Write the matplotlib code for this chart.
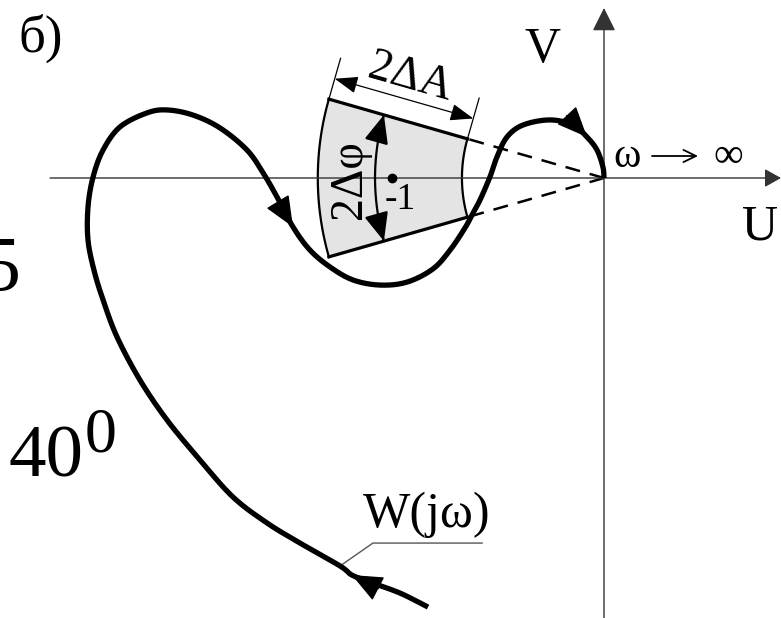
import numpy as np
import matplotlib.pyplot as plt
from matplotlib.patches import FancyArrowPatch
from matplotlib.path import Path

plt.rcParams['font.family'] = ['Liberation Serif', 'DejaVu Serif']

# hodograph W(jw) in the U-V plane, from the low-frequency end to w -> inf
curve_u = [-0.830, -0.962, -1.104, -1.189, -1.245, -1.434, -1.590, -1.750, -1.906, -2.061,
           -2.189, -2.297, -2.363, -2.406, -2.434, -2.434, -2.410, -2.363, -2.283, -2.156,
           -2.061, -1.939, -1.811, -1.684, -1.608, -1.542, -1.467, -1.387, -1.292, -1.184,
           -1.057, -0.929, -0.807, -0.726, -0.656, -0.623, -0.585, -0.538, -0.505, -0.458,
           -0.382, -0.255, -0.146, -0.080, -0.033, -0.005, 0.0]
curve_v = [-2.024, -1.958, -1.906, -1.873, -1.830, -1.722, -1.627, -1.505, -1.330, -1.142,
           -0.953, -0.750, -0.575, -0.434, -0.292, -0.137, 0.005, 0.132, 0.241, 0.307,
           0.321, 0.297, 0.236, 0.132, 0.024, -0.090, -0.231, -0.340, -0.420, -0.481,
           -0.505, -0.491, -0.429, -0.340, -0.236, -0.175, -0.104, 0.005, 0.099, 0.193,
           0.250, 0.274, 0.250, 0.193, 0.132, 0.052, 0.0]
arrow_idx = [3, 26, 43]   # where the direction arrows sit on the curve

# forbidden zone around the critical point (-1, j0)
crit_u = -1.0
amp_low, amp_high = 0.67, 1.35
dphi = 16.0   # degrees
phi_arc_r = 1.08

K = 212.0  # pixels per unit


def smooth(u, v, n=12):
    # catmull-rom through the traced points
    p = np.column_stack([u, v])
    p = np.vstack([p[0], p, p[-1]])
    t = np.linspace(0, 1, n, endpoint=False)[:, None]
    out = []
    for i in range(1, len(p) - 2):
        p0, p1, p2, p3 = p[i - 1], p[i], p[i + 1], p[i + 2]
        out.append(0.5 * (2 * p1 + (-p0 + p2) * t + (2 * p0 - 5 * p1 + 4 * p2 - p3) * t ** 2
                          + (-p0 + 3 * p1 - 3 * p2 + p3) * t ** 3))
    out.append(p[-2][None])
    return np.vstack(out), n


fig = plt.figure(figsize=(7.81, 6.18), dpi=100)
ax = fig.add_axes([0, 0, 1, 1])
ax.set_xlim(-604 / K, 177 / K)
ax.set_ylim(-440 / K, 178 / K)
ax.axis('off')

axis_col = '#333333'
ax.annotate('', xy=(177 / K, 0), xytext=(-2.613, 0),
            arrowprops=dict(arrowstyle='-|>,head_length=0.5,head_width=0.28', color=axis_col,
                            lw=1.0, mutation_scale=20, shrinkA=0, shrinkB=0))
ax.annotate('', xy=(0, 170 / K), xytext=(0, -2.1),
            arrowprops=dict(arrowstyle='-|>,head_length=0.72,head_width=0.36', color=axis_col,
                            lw=1.0, mutation_scale=20, shrinkA=0, shrinkB=0))

# shaded sector
a0 = np.radians(180 - dphi)
a1 = np.radians(180 + dphi)
th = np.linspace(a0, a1, 80)
su = np.concatenate([amp_high * np.cos(th), amp_low * np.cos(th[::-1])])
sv = np.concatenate([amp_high * np.sin(th), amp_low * np.sin(th[::-1])])
ax.fill(su, sv, color='#e4e4e4', lw=0, zorder=1)
ax.plot(amp_high * np.cos(th), amp_high * np.sin(th), color='k', lw=1.6, zorder=2)
ax.plot(amp_low * np.cos(th), amp_low * np.sin(th), color='k', lw=1.6, zorder=2)
for a in (a0, a1):
    ax.plot([amp_low * np.cos(a), amp_high * np.cos(a)],
            [amp_low * np.sin(a), amp_high * np.sin(a)], color='k', lw=2.3, zorder=2)
    ax.plot([0, amp_low * np.cos(a)], [0, amp_low * np.sin(a)], color='k', lw=1.8,
            dashes=(6, 4), zorder=2)

ax.plot(crit_u, 0, 'o', color='k', ms=6, zorder=3)
ax.text(crit_u + 0.038, -0.104, '-1', fontsize=27, ha='center', va='center', zorder=4)

# 2dA dimension along the upper edge
e = np.array([np.cos(a0), np.sin(a0)])
nrm = np.array([np.sin(a0), -np.cos(a0)])
p_out = amp_high * e
p_in = amp_low * e
for p in (p_out, p_in):
    q = p + 0.2 * nrm
    ax.plot([p[0], q[0]], [p[1], q[1]], color='k', lw=0.9)
d_out = p_out + 0.1 * nrm
d_in = p_in + 0.1 * nrm
ax.annotate('', xy=d_in, xytext=d_out,
            arrowprops=dict(arrowstyle='<|-|>,head_length=0.65,head_width=0.24', color='k',
                            lw=0.9, mutation_scale=22, shrinkA=0, shrinkB=0))
mid = (d_out + d_in) / 2 + 0.05 * nrm
ax.text(mid[0], mid[1], '2ΔA', fontsize=33, rotation=-dphi, rotation_mode='anchor',
        ha='center', va='baseline')

# 2dphi arc
tha = np.linspace(a0, a1, 60)
arc = Path(np.column_stack([phi_arc_r * np.cos(tha), phi_arc_r * np.sin(tha)]))
ax.add_patch(FancyArrowPatch(path=arc, arrowstyle='<|-|>,head_length=0.7,head_width=0.3',
                             mutation_scale=25, color='k', lw=1.6, zorder=3))
ax.text(-1.198, -0.009, '2Δφ', fontsize=33, rotation=90, ha='center', va='center', zorder=4)

# the hodograph
pts, n = smooth(curve_u, curve_v)
ax.plot(pts[:, 0], pts[:, 1], color='k', lw=3.8, solid_capstyle='butt', zorder=5)
for k in arrow_idx:
    tip = pts[k * n]
    d = pts[k * n] - pts[k * n - 1]
    d = d / np.hypot(*d)
    ax.annotate('', xy=tip, xytext=tip - 0.14 * d,
                arrowprops=dict(arrowstyle='-|>,head_length=0.7,head_width=0.3', color='k',
                                lw=1.0, mutation_scale=28, shrinkA=0, shrinkB=0), zorder=6)

# W(jw) callout
ax.plot([-1.245, -1.090, -0.575], [-1.830, -1.722, -1.722], color='#555555', lw=1.0, zorder=4)
ax.text(-1.137, -1.646, 'W(jω)', fontsize=36, ha='left', va='baseline')

# w -> inf
ax.text(0.042, 0.052, 'ω', fontsize=30, ha='left', va='baseline')
ax.annotate('', xy=(94 / K, 22 / K), xytext=(48 / K, 22 / K),
            arrowprops=dict(arrowstyle='->,head_length=0.45,head_width=0.22', color='k',
                            lw=1.3, mutation_scale=20, shrinkA=0, shrinkB=0))
ax.text(109 / K, 0.052, '∞', fontsize=30, ha='left', va='baseline')

ax.text(-0.288, 0.547, 'V', fontsize=36, ha='center', va='baseline')
ax.text(0.736, -0.292, 'U', fontsize=36, ha='center', va='baseline')
ax.text(-2.764, 0.598, 'б)', fontsize=38, ha='left', va='baseline')
ax.text(-2.755, -0.528, '5', fontsize=56, ha='right', va='baseline')
ax.text(-2.811, -1.410, '40', fontsize=54, ha='left', va='baseline')
ax.text(-2.448, -1.292, '0', fontsize=46, ha='left', va='baseline')

fig.savefig('out.png', dpi=100)
